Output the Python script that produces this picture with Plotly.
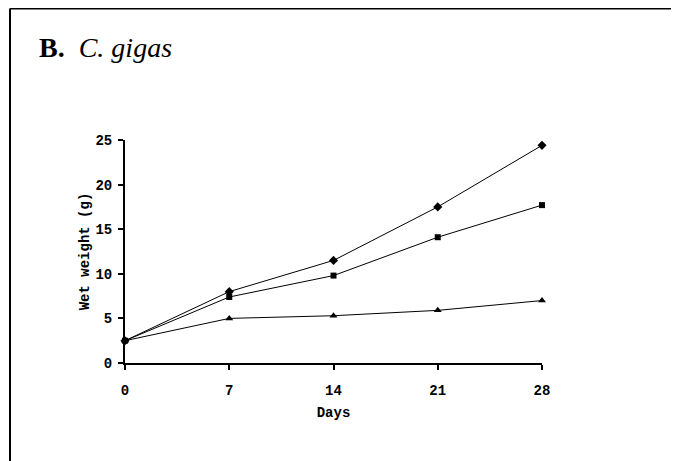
import plotly.graph_objects as go

days = [0, 7, 14, 21, 28]
series_diamond = [2.5, 8.0, 11.5, 17.5, 24.4]
series_square = [2.5, 7.4, 9.8, 14.1, 17.7]
series_triangle = [2.5, 5.0, 5.3, 5.9, 7.0]
x_ticks = [0, 7, 14, 21, 28]
y_ticks = [0, 5, 10, 15, 20, 25]

W, H = 679, 461
OFF = 8  # page body margin
L, T = 125 - OFF, 140 - OFF
R, B = W - (542 - OFF), H - (363 - OFF)
PW, PH = W - L - R, H - T - B

def px(x):
    return (x - OFF - L) / PW

def py(y):
    return (H - B - (y - OFF)) / PH

mono = "Liberation Mono, Courier New, monospace"

fig = go.Figure()
for ys, sym, sz in [(series_diamond, "diamond", 7), (series_square, "square", 6), (series_triangle, "triangle-up", 7)]:
    fig.add_trace(go.Scatter(
        x=days, y=ys, mode="lines+markers",
        line=dict(color="black", width=1),
        marker=dict(symbol=sym, size=sz, color="black"),
        cliponaxis=False, showlegend=False,
    ))

axis_common = dict(
    showgrid=False, zeroline=False, showline=True, linecolor="black", linewidth=2,
    ticks="outside", ticklen=5, tickwidth=1.5, tickcolor="black",
    tickfont=dict(family=mono, size=14, color="black", weight="bold"),
)

fig.update_layout(
    width=W, height=H,
    margin=dict(l=L, r=R, t=T, b=B, autoexpand=False),
    paper_bgcolor="white", plot_bgcolor="white",
    xaxis=dict(range=[0, 28], tickvals=x_ticks, ticklabelstandoff=8,
               title=dict(text="Days", font=dict(family=mono, size=14, color="black", weight="bold"), standoff=9),
               **axis_common),
    yaxis=dict(range=[0, 25], tickvals=y_ticks, ticklabelstandoff=3,
               title=dict(text="Wet weight (g)", font=dict(family=mono, size=14, color="black", weight="bold"), standoff=2),
               **axis_common),
    annotations=[dict(
        text="<b>B.</b>&nbsp;&nbsp;<i>C. gigas</i>",
        xref="paper", yref="paper", x=px(37), y=py(48), xanchor="left", yanchor="middle",
        showarrow=False, font=dict(family="Liberation Serif, Times New Roman, serif", size=28, color="black"),
    )],
    shapes=[
        dict(type="line", xref="paper", yref="paper", x0=px(10), x1=px(700), y0=py(8.5), y1=py(8.5),
             line=dict(color="black", width=2)),
        dict(type="line", xref="paper", yref="paper", x0=px(10), x1=px(10), y0=py(8.5), y1=py(480),
             line=dict(color="black", width=2)),
    ],
)

fig.write_html("out.html")
